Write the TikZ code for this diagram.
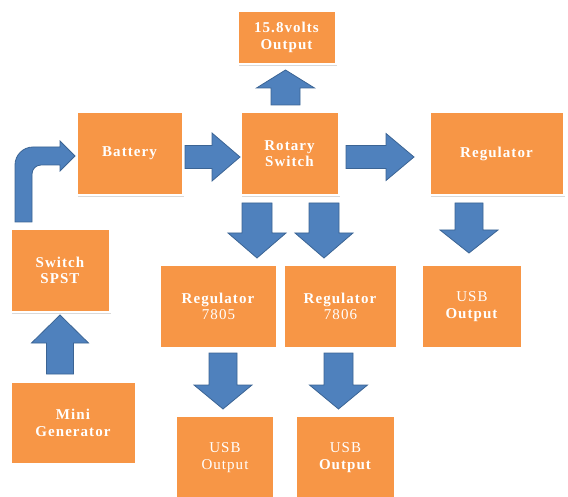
\documentclass[tikz,border=0pt]{standalone}
\usepackage{fontspec}
\setmainfont{Liberation Serif}[LetterSpace=7]
\usepackage{xcolor}
\usepackage{tikz}
\usetikzlibrary{calc, shadows}

\definecolor{boxorange}{HTML}{F79646}
\definecolor{arrowblue}{HTML}{4F81BD}
\definecolor{arrowedge}{HTML}{3B6494}

\tikzset{
	block/.style = {fill = boxorange, draw = white, line width = 2.5pt, outer sep = 0pt, inner sep = 0pt,
		align = center, text = white, font = \fontsize{15}{16.5}\selectfont,
		drop shadow = {shadow xshift = 0.8pt, shadow yshift = -2pt, opacity = 0.3}},
	arrowbody/.style = {fill = arrowblue, draw = arrowedge, line width = 0.8pt, line join = miter}
}

% from, to, half shaft, half head, head length
\newcommand{\blockarrow}[5]{%
	\coordinate (headbase) at ($(#2)!#5!(#1)$);
	\draw [arrowbody] ($(#1)!#3!90:(#2)$) -- ($(headbase)!#3!90:(#2)$) -- ($(headbase)!#4!90:(#2)$) -- (#2)
		-- ($(headbase)!#4!-90:(#2)$) -- ($(headbase)!#3!-90:(#2)$) -- ($(#1)!#3!-90:(#2)$) -- cycle;}

\begin{document}
\begin{tikzpicture}[x = 1pt, y = -1pt]
		\useasboundingbox (0,0) rectangle (568,497);
		\clip (0,0) rectangle (568,497);
		
		\begin{scope}
			\node [block, minimum width = 98.5pt, minimum height = 53.5pt] (volts) at (287,37.5) {\textbf{15.8volts}\\\textbf{Output}};
			\node [block, minimum width = 98.5pt, minimum height = 83.5pt] (rotary) at (290,153.5) {\textbf{Rotary}\\\textbf{Switch}};
			\node [block, minimum width = 134.5pt, minimum height = 83.5pt] (reg) at (497,153.5) {\textbf{Regulator}};
			\node [block, minimum width = 106.5pt, minimum height = 83.5pt] (battery) at (130,153.5) {\textbf{Battery}};
			\node [block, minimum width = 99.5pt, minimum height = 83.5pt] (spst) at (60.5,270.5) {\textbf{Switch}\\\textbf{SPST}};
			\node [block, minimum width = 125.5pt, minimum height = 82.5pt] (minigen) at (73.5,423) {\textbf{Mini}\\\textbf{Generator}};
			\node [block, minimum width = 117.5pt, minimum height = 83.5pt] (regA) at (218.5,306.5) {\textbf{Regulator}\\7805};
			\node [block, minimum width = 113.5pt, minimum height = 83.5pt] (regB) at (340.5,306.5) {\textbf{Regulator}\\7806};
			\node [block, minimum width = 100.5pt, minimum height = 83.5pt] (usbC) at (472,306.5) {USB\\\textbf{Output}};
			\node [block, minimum width = 98.5pt, minimum height = 83.5pt] (usbA) at (225,457.5) {USB\\Output};
			\node [block, minimum width = 99.5pt, minimum height = 83.5pt] (usbB) at (345.5,457.5) {USB\\\textbf{Output}};
		\end{scope}
		
		\begin{scope}
			\coordinate (batS) at ([xshift = 1.75pt, yshift = -3.5pt]battery.east);
			\coordinate (batT) at ([xshift = -0.75pt, yshift = -3.5pt]rotary.west);
			\blockarrow{batS}{batT}{11.5pt}{24pt}{28pt}
			
			\coordinate (rotS) at ([xshift = 6.75pt, yshift = -3.5pt]rotary.east);
			\coordinate (rotT) at ([xshift = -15.75pt, yshift = -3.5pt]reg.west);
			\blockarrow{rotS}{rotT}{11.5pt}{23.5pt}{28pt}
			
			\coordinate (upS) at ([xshift = -4.5pt, yshift = 6.75pt]rotary.north);
			\coordinate (upT) at ([xshift = -1.5pt, yshift = -5.75pt]volts.south);
			\blockarrow{upS}{upT}{14.5pt}{29pt}{18pt}
			
			\coordinate (downAS) at ([xshift = -33pt, yshift = -7.75pt]rotary.south);
			\coordinate (downAT) at ([xshift = 38.5pt, yshift = 6.75pt]regA.north);
			\blockarrow{downAS}{downAT}{15pt}{29pt}{25pt}
			
			\coordinate (downBS) at ([xshift = 34pt, yshift = -7.75pt]rotary.south);
			\coordinate (downBT) at ([xshift = -16.5pt, yshift = 6.75pt]regB.north);
			\blockarrow{downBS}{downBT}{15pt}{29pt}{25pt}
			
			\coordinate (downCS) at ([xshift = -28pt, yshift = -7.75pt]reg.south);
			\coordinate (downCT) at ([xshift = -3pt, yshift = 11.75pt]usbC.north);
			\blockarrow{downCS}{downCT}{14pt}{29pt}{23pt}
			
			\coordinate (usbAS) at ([xshift = 4.5pt, yshift = -4.75pt]regA.south);
			\coordinate (usbAT) at ([xshift = -2pt, yshift = 6.75pt]usbA.north);
			\blockarrow{usbAS}{usbAT}{14pt}{29pt}{24pt}
			
			\coordinate (usbBS) at ([xshift = -2pt, yshift = -4.75pt]regB.south);
			\coordinate (usbBT) at ([xshift = -7pt, yshift = 6.75pt]usbB.north);
			\blockarrow{usbBS}{usbBT}{14.5pt}{29pt}{24pt}
			
			\coordinate (genS) at ([xshift = -13.5pt, yshift = 7.75pt]minigen.north);
			\coordinate (genT) at ([xshift = -0.5pt, yshift = -2.75pt]spst.south);
			\blockarrow{genS}{genT}{13.5pt}{28.5pt}{28pt}
		\end{scope}
		
		\begin{scope}
			\coordinate (bendS) at ([xshift = -37pt, yshift = 6.75pt]spst.north);
			\coordinate (bendT) at ([xshift = -1.75pt, yshift = -2.5pt]battery.west);
			\draw [arrowbody]
				($(bendS)+(-8.5,0)$) -- ($(bendS |- bendT)+(-8.5,9)$)
				arc [start angle = 180, end angle = 90, radius = 18pt]
				-- ($(bendT)+(-15,-9)$) -- ($(bendT)+(-15,-15)$) -- (bendT)
				-- ($(bendT)+(-15,15)$) -- ($(bendT)+(-15,9)$)
				-- ($(bendS |- bendT)+(17.5,9)$)
				arc [start angle = 90, end angle = 180, radius = 9pt]
				-- ($(bendS)+(8.5,0)$) -- cycle;
		\end{scope}
	\end{tikzpicture}
\end{document}
